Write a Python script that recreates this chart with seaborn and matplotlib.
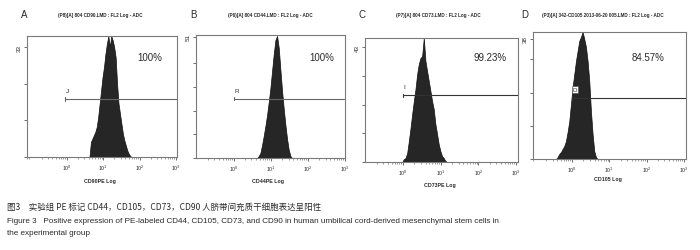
import numpy as np
import pandas as pd
import matplotlib
matplotlib.use("Agg")
import matplotlib.pyplot as plt
import seaborn as sns

sns.set_style("white")
plt.rcParams['font.family'] = ['Liberation Sans', 'Noto Sans CJK SC', 'DejaVu Sans']
plt.rcParams['mathtext.fontset'] = 'custom'
plt.rcParams['mathtext.rm'] = 'Liberation Sans'
plt.rcParams['mathtext.it'] = 'Liberation Sans'

# ---- data (x in log10 fluorescence units, y in counts) ----
panel_letters = ["A", "B", "C", "D"]
panel_headers = [
    "(P8)[A] 804 CD90.LMD : FL2 Log - ADC",
    "(P6)[A] 804 CD44.LMD : FL2 Log - ADC",
    "(P7)[A] 804 CD73.LMD : FL2 Log - ADC",
    "(P3)[A] 342-CD105 2013-06-20 005.LMD : FL2 Log - ADC",
]
x_labels = ["CD90PE Log", "CD44PE Log", "CD73PE Log", "CD105 Log"]
percent_labels = ["100%", "100%", "99.23%", "84.57%"]
gate_names = ["J", "R", "I", "D"]
y_top_labels = ["33", "51", "43", "38"]
y_max = [36.3, 51.8, 46.4, 40.2]
y_ticks = [[0, 11, 22, 33], [0, 10, 20, 30, 40, 51], [0, 10.75, 21.5, 32.25, 43], [0, 10.5, 21, 31.5, 38]]
x_limits = [(-1.10, 3.03), (-1.02, 2.97), (-1.01, 3.05), (-1.05, 3.06)]
decade_ticks = [0, 1, 2, 3]
decade_labels = [r"$10^{0}$", r"$10^{1}$", r"$10^{2}$", r"$10^{3}$"]

gate_start = [-0.05, 0.0, 0.0, 0.0]
gate_level = [17.4, 24.9, 25.0, 19.3]

bin_start = [0.60, 0.605, -0.044, -0.455]
bin_width = [0.04, 0.045, 0.044, 0.0447]
counts_A = [0, 4.5, 5.5, 6.5, 7.5, 9, 12, 16, 20, 24, 27, 31, 34, 36.3, 33, 36.3, 35,
            33, 30, 22, 16, 13, 10, 7, 5, 3.5, 2, 1, 0.3, 0]
counts_B = [0, 0.8, 2.1, 5.5, 9.3, 13.5, 18.1, 23.6, 29.5, 36.7, 43.8, 49.7, 51.4,
            46.4, 37.1, 28.2, 20.7, 13.9, 8.0, 3.4, 0.8, 0]
counts_C = [0, 1.1, 1.5, 3.4, 7.9, 12.7, 18.0, 22.8, 27.3, 32.9, 36.7, 38.9, 39.6, 46.4,
            37.8, 34.0, 30.3, 26.6, 22.8, 19.8, 14.2, 10.5, 6.7, 4.1, 2.2, 1.5, 0.4, 0]
counts_D = [0, 0.6, 1.6, 2.2, 3.2, 4.1, 5.7, 8.6, 12.0, 17.4, 22.8, 26.9, 31.0, 34.2,
            37.4, 38.6, 40.2, 38.0, 35.5, 31.0, 24.7, 15.2, 7.9, 2.5, 0.6, 0]
all_counts = [counts_A, counts_B, counts_C, counts_D]

# ---- layout ----
W, H = 700, 251
fig = plt.figure(figsize=(7.0, 2.51), dpi=100)
boxes = [(27, 177, 37, 158), (196, 345, 36, 159), (365, 518, 39, 163), (533, 686, 33, 160)]
letter_x = [24, 193, 362, 525]
header_x = [100, 270, 438, 603]
pct_x = [150, 322, 490, 648]
xlab_y = [181, 182, 186, 180]
gate_colors = ["#666666", "#666666", "#333333", "#333333"]

text_col = "#2a2a2a"
for i in range(4):
    l, r, t, b = boxes[i]
    ax = fig.add_axes([l / W, (H - b) / H, (r - l) / W, (b - t) / H])
    counts = np.array(all_counts[i], dtype=float)
    edges = bin_start[i] + bin_width[i] * np.arange(len(counts) + 1)
    centers = (edges[:-1] + edges[1:]) / 2
    df = pd.DataFrame({"log_fl": centers, "count": counts})
    sns.histplot(data=df, x="log_fl", weights="count", bins=edges.tolist(), element="poly",
                 fill=True, color="#262626", edgecolor="#111111", linewidth=0.5, alpha=1.0, ax=ax)
    ax.set_xlim(*x_limits[i])
    ax.set_ylim(0, y_max[i])
    ax.set_ylabel("")
    ax.set_xlabel("")
    # gate line
    ax.plot([gate_start[i], x_limits[i][1]], [gate_level[i], gate_level[i]],
            color=gate_colors[i], lw=0.8)
    ax.plot([gate_start[i], gate_start[i]], [gate_level[i] - 0.6, gate_level[i] + 0.6],
            color=gate_colors[i], lw=0.8)
    kw = {}
    if i == 3:
        kw["bbox"] = dict(boxstyle="square,pad=0.15", fc="white", ec="#444444", lw=0.4)
    ax.text(gate_start[i] + 0.02, gate_level[i] + y_max[i] * 0.05, gate_names[i],
            fontsize=4.5, color=text_col, ha="left", va="bottom", **kw)
    # ticks
    ax.set_xticks(decade_ticks)
    ax.set_xticklabels(decade_labels, fontsize=3.8, color=text_col)
    minors = [d + np.log10(k) for d in range(-2, 4) for k in range(2, 10)]
    minors = [m for m in minors if x_limits[i][0] < m < x_limits[i][1]]
    ax.set_xticks(minors, minor=True)
    ax.tick_params(axis="x", which="major", direction="out", length=2.5, width=0.6,
                   pad=1.5, colors="#555555", labelcolor=text_col, bottom=True)
    ax.tick_params(axis="x", which="minor", direction="out", length=1.5, width=0.5,
                   colors="#777777", bottom=True)
    ax.set_yticks(y_ticks[i])
    ax.set_yticklabels([""] * (len(y_ticks[i]) - 1) + [y_top_labels[i]], fontsize=4.5,
                       color=text_col, rotation=90, va="center")
    ax.tick_params(axis="y", direction="out", length=2, width=0.6, pad=1.5,
                   colors="#555555", labelcolor=text_col, left=True)
    for sp in ax.spines.values():
        sp.set_visible(True)
        sp.set_color("#7a7a7a")
        sp.set_linewidth(0.8)
    ax.grid(False)
    # texts in figure pixel coordinates
    fig.text(letter_x[i] / W, 1 - 15 / H, panel_letters[i], fontsize=7, color=text_col,
             ha="center", va="center")
    fig.text(header_x[i] / W, 1 - 16 / H, panel_headers[i], fontsize=3.3, color=text_col,
             ha="center", va="center", fontweight="bold")
    fig.text(pct_x[i] / W, 1 - 58 / H, percent_labels[i], fontsize=7, color=text_col,
             ha="center", va="center")
    fig.text(((l + r) / 2 - 2) / W, 1 - xlab_y[i] / H, x_labels[i], fontsize=3.8,
             color=text_col, ha="center", va="center", fontweight="bold")

cap1 = "图3　实验组 PE 标记 CD44，CD105，CD73，CD90 人脐带间充质干细胞表达呈阳性"
cap2 = ("Figure 3   Positive expression of PE-labeled CD44, CD105, CD73, and CD90 in human "
        "umbilical cord-derived mesenchymal stem cells in")
cap3 = "the experimental group"
fig.text(7 / W, 1 - 207 / H, cap1, fontsize=6.1, color=text_col, ha="left", va="center",
         family=['Noto Sans CJK SC', 'Liberation Sans'])
fig.text(7 / W, 1 - 222 / H, cap2, fontsize=5.85, color=text_col, ha="left", va="center")
fig.text(7 / W, 1 - 234 / H, cap3, fontsize=5.85, color=text_col, ha="left", va="center")

fig.savefig("out.png", dpi=100, facecolor="white")
